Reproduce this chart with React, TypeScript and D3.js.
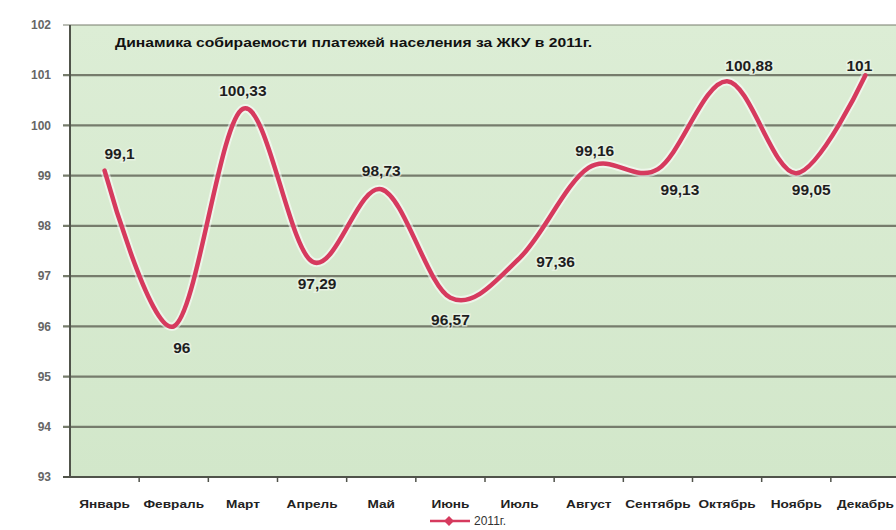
import React from 'react';
import * as d3 from 'd3';

const months = [
  'Январь', 'Февраль', 'Март', 'Апрель', 'Май', 'Июнь',
  'Июль', 'Август', 'Сентябрь', 'Октябрь', 'Ноябрь', 'Декабрь',
];
const values2011 = [99.1, 96, 100.33, 97.29, 98.73, 96.57, 97.36, 99.16, 99.13, 100.88, 99.05, 101];
const yTicks = [93, 94, 95, 96, 97, 98, 99, 100, 101, 102];
const seriesName = '2011г.';
const title = 'Динамика собираемости платежей населения за ЖКУ в 2011г.';

// where each value label sits relative to its point (style only)
const labelOffsets = [
  [15, -17], [8, 21], [0, -18], [5, 22], [0, -19], [0, 22],
  [36, 4], [6, -17], [22, 20], [22, -16], [15, 16], [-6, -10],
];

const width = 896;
const height = 530;
const margin = { top: 25, right: -4, bottom: 53, left: 70 };
const lineColor = '#d63a5e';
const gridColor = '#767c6c';

export default function App() {
  const x = d3
    .scalePoint<string>()
    .domain(months)
    .range([margin.left, width - margin.right])
    .padding(0.5);
  const step = x.step();

  const y = d3
    .scaleLinear()
    .domain([93, 102])
    .range([height - margin.bottom, margin.top]);

  const data = months.map((m, i) => ({ m, v: values2011[i] }));

  const line = d3
    .line<{ m: string; v: number }>()
    .x((d) => x(d.m) as number)
    .y((d) => y(d.v))
    .curve(d3.curveCardinal.tension(0));

  const fmt = (v: number) => String(v).replace('.', ',');
  const plotRight = width - margin.right;
  const bottom = y(93);

  return (
    <svg
      width={width}
      height={height}
      style={{ position: 'absolute', left: 0, top: 0, background: '#fff' }}
      fontFamily="Arial, 'Liberation Sans', sans-serif"
    >
      <defs>
        <linearGradient id="bg" x1="0" y1="0" x2="0" y2="1">
          <stop offset="0" stopColor="#dcedd5" />
          <stop offset="1" stopColor="#d2e7ca" />
        </linearGradient>
      </defs>

      <rect
        x={margin.left}
        y={margin.top}
        width={plotRight - margin.left}
        height={bottom - margin.top}
        fill="url(#bg)"
      />

      {yTicks.map((t) => (
        <g key={t}>
          <line
            x1={margin.left - 7}
            x2={plotRight}
            y1={y(t)}
            y2={y(t)}
            stroke={t === 93 ? '#50534a' : gridColor}
            strokeWidth={t === 102 ? 1.2 : 2.2}
          />
          <text
            x={51}
            y={y(t)}
            dy="0.35em"
            textAnchor="end"
            fontSize={12}
            fontWeight="bold"
            fill="#666"
          >
            {t}
          </text>
        </g>
      ))}

      <line
        x1={margin.left}
        x2={margin.left}
        y1={margin.top}
        y2={bottom}
        stroke="#50534a"
        strokeWidth={2}
      />

      {months.map((m) => (
        <line
          key={'tk' + m}
          x1={(x(m) as number) + step / 2}
          x2={(x(m) as number) + step / 2}
          y1={bottom}
          y2={bottom + 5}
          stroke="#50534a"
          strokeWidth={1.5}
        />
      ))}

      <text
        x={115}
        y={47}
        fontSize={13}
        fontWeight="bold"
        fill="#111"
        textLength={477}
        lengthAdjust="spacingAndGlyphs"
      >
        {title}
      </text>

      <path
        d={line(data) ?? ''}
        fill="none"
        stroke="#fff"
        strokeOpacity={0.55}
        strokeWidth={8.5}
      />
      <path
        d={line(data) ?? ''}
        fill="none"
        stroke={lineColor}
        strokeWidth={4.5}
        strokeLinecap="round"
      />

      {data.map((d, i) => (
        <text
          key={'lb' + d.m}
          x={(x(d.m) as number) + labelOffsets[i][0]}
          y={y(d.v) + labelOffsets[i][1]}
          dy="0.35em"
          textAnchor="middle"
          fontSize={15.5}
          fontWeight="bold"
          fill="#1e1e1e"
          stroke="#eef6ea"
          strokeWidth={3}
          strokeOpacity={0.7}
          paintOrder="stroke"
        >
          {fmt(d.v)}
        </text>
      ))}

      {months.map((m) => (
        <text
          key={'xl' + m}
          transform={`translate(${x(m)},${bottom + 31}) scale(1.3,1)`}
          textAnchor="middle"
          fontSize={10.5}
          fontWeight="bold"
          fill="#222"
        >
          {m}
        </text>
      ))}

      <g transform="translate(430,521)">
        <line x1={0} x2={40} y1={0} y2={0} stroke={lineColor} strokeWidth={2.5} />
        <rect x={-3.5} y={-3.5} width={7} height={7} fill={lineColor} transform="translate(19,0) rotate(45)" />
        <text x={44} y={0} dy="0.35em" fontSize={12} fill="#333">
          {seriesName}
        </text>
      </g>
    </svg>
  );
}
